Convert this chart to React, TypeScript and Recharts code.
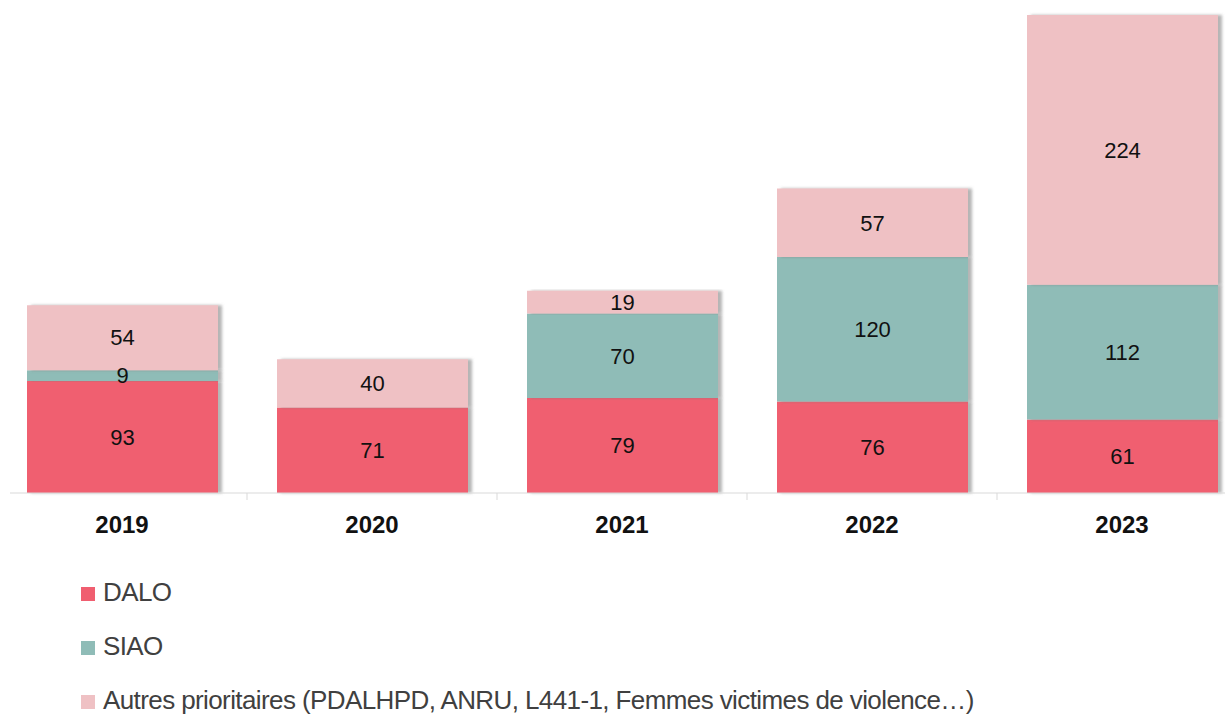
import React from "react"
import { BarChart, Bar, XAxis, YAxis, LabelList } from "recharts"

const years = ["2019", "2020", "2021", "2022", "2023"]
const dalo = [93, 71, 79, 76, 61]
const siao = [9, 0, 70, 120, 112]
const autres = [54, 40, 19, 57, 224]

const series = [
  { key: "dalo", name: "DALO", color: "#f05e70", values: dalo },
  { key: "siao", name: "SIAO", color: "#8fbcb7", values: siao },
  {
    key: "autres",
    name: "Autres prioritaires (PDALHPD, ANRU, L441-1, Femmes victimes de violence…)",
    color: "#efc1c4",
    values: autres,
  },
]

const data = years.map((y, i) => ({
  year: y,
  dalo: dalo[i],
  siao: siao[i] || null,
  autres: autres[i],
}))

const FONT = "'Liberation Sans', Arial, sans-serif"

function YearTick(props: any) {
  const { x, y, payload } = props
  const half = payload?.offset ?? 125
  return (
    <g>
      <line x1={x + half} x2={x + half} y1={y - 8} y2={y - 1} stroke="#d9d9d9" />
      <text
        x={x}
        y={y + 32}
        textAnchor="middle"
        fontFamily={FONT}
        fontSize={24}
        fontWeight="bold"
        fill="#111"
      >
        {payload.value}
      </text>
    </g>
  )
}

export default function App() {
  return (
    <div
      style={{
        position: "absolute",
        left: 0,
        top: 0,
        width: 1225,
        height: 717,
        overflow: "hidden",
        background: "#fff",
      }}
    >
      <svg width={0} height={0} style={{ position: "absolute" }}>
        <defs>
          <filter id="barShadow" x="-5%" y="-5%" width="115%" height="110%">
            <feDropShadow dx={4} dy={0} stdDeviation={1.5} floodColor="#777" floodOpacity={0.55} />
          </filter>
        </defs>
      </svg>
      <div style={{ position: "absolute", left: 10, top: 0, width: 1215, height: 717, overflow: "hidden" }}>
        <div style={{ position: "absolute", left: -13, top: 0 }}>
          <BarChart
            width={1250}
            height={717}
            data={data}
            margin={{ top: 15, right: 0, bottom: 164, left: 0 }}
            barSize={191}
          >
            <XAxis
              dataKey="year"
              height={60}
              tickLine={false}
              axisLine={{ stroke: "#d9d9d9" }}
              tick={<YearTick />}
              interval={0}
            />
            <YAxis hide domain={[0, 397]} />
            {series.map((s) => (
              <Bar
                key={s.key}
                dataKey={s.key}
                name={s.name}
                stackId="a"
                fill={s.color}
                isAnimationActive={false}
                style={{ filter: "url(#barShadow)" }}
              >
                <LabelList
                  dataKey={s.key}
                  position="center"
                  fill="#111"
                  fontSize={22}
                  fontFamily={FONT}
                />
              </Bar>
            ))}
          </BarChart>
        </div>
      </div>
      <div style={{ position: "absolute", left: 81, top: 580, fontFamily: FONT }}>
        {series.map((s, i) => (
          <div
            key={s.key}
            style={{
              display: "flex",
              alignItems: "center",
              height: 24,
              marginBottom: i < series.length - 1 ? 30 : 0,
              fontSize: 26,
              lineHeight: "24px",
              color: "#404040",
              letterSpacing: -0.6,
              whiteSpace: "nowrap",
            }}
          >
            <span style={{ width: 14, height: 14, background: s.color, marginRight: 8, marginTop: 3, flex: "none" }} />
            <span>{s.name}</span>
          </div>
        ))}
      </div>
    </div>
  )
}
